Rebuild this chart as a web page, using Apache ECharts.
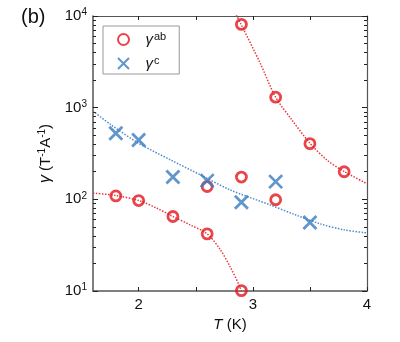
<!DOCTYPE html>
<html><head><meta charset="utf-8">
<script src="https://cdn.jsdelivr.net/npm/echarts@6/dist/echarts.min.js"></script>
<style>html,body{margin:0;padding:0;background:#fff}#c{width:400px;height:342px}</style>
</head><body><div id="c"></div>
<script>
// ---- data ----
const abT     = [1.8, 2.0, 2.3, 2.6, 2.9, 2.6, 2.9, 3.2, 2.9, 3.2, 3.5, 3.8];
const abGamma = [109, 97, 65, 42, 10.1, 138, 175, 99, 8100, 1300, 405, 200];
const cT      = [1.8, 2.0, 2.3, 2.6, 2.9, 3.2, 3.5];
const cGamma  = [526, 445, 175, 160, 93, 156, 56];
// dotted fit curves
const fitHighT = [2.855, 2.896, 3.065, 3.2, 3.342, 3.5, 3.648, 3.8, 4.0];
const fitHighG = [10300, 8160, 3050, 1300, 735, 409, 269, 201, 148];
const fitLowT  = [1.6, 1.8, 2.0, 2.16, 2.3, 2.45, 2.6, 2.715, 2.8, 2.89, 2.92];
const fitLowG  = [117, 110, 97, 80, 65, 52.7, 42, 28.2, 18.5, 10.8, 8];
const fitCT    = [1.6, 1.75, 2.0, 2.28, 2.54, 2.8, 3.15, 3.37, 3.59, 3.8, 4.0];
const fitCG    = [920, 660, 409, 269, 185, 127, 87, 68, 54, 46.5, 43];
// axes
const xRange = [1.6, 4];
const yRange = [10, 10000];
const xTickVals = [2, 2.5, 3, 3.5, 4];
const xLabelVals = [2, 3, 4];
const yMinorVals = [20,30,40,50,60,70,80,90,200,300,400,500,600,700,800,900,2000,3000,4000,5000,6000,7000,8000,9000];
const seriesNames = ['γab', 'γc'];

const FONT = '"Liberation Sans", Arial, sans-serif';
const RED = '#e2161e', BLUE = '#3a7cc0';
const RED_FIT = '#e8393e', BLUE_FIT = '#4a8ccc';
const AX = '#555';

const zip = (a, b) => a.map((v, i) => [v, b[i]]);
const supRich = {
  b: {fontSize: 15, fontFamily: FONT, color: '#111'},
  s: {fontSize: 10, fontFamily: FONT, color: '#111', verticalAlign: 'top', padding: [0, 0, 7, 0]}
};
const minorLog = yMinorVals.map(v => Math.log10(v));

const chart = echarts.init(document.getElementById('c'));
chart.setOption({
  animation: false,
  backgroundColor: '#fff',
  textStyle: {fontFamily: FONT},
  graphic: [{type: 'text', left: 21, top: 7, style: {text: '(b)', font: '20px ' + FONT, fill: '#111'}}],
  grid: {left: 93, right: 33, top: 16, bottom: 51, containLabel: false, outerBoundsMode: 'none'},
  xAxis: [
    {type: 'value', min: xRange[0], max: xRange[1], position: 'bottom',
     axisLine: {onZero: false, lineStyle: {color: AX, width: 1.5}},
     axisTick: {inside: true, length: 4, customValues: xTickVals, lineStyle: {color: '#222'}},
     axisLabel: {customValues: xLabelVals, fontSize: 15, color: '#111', margin: 6, fontFamily: FONT},
     splitLine: {show: false},
     name: '{i|T} (K)', nameLocation: 'middle', nameGap: 21,
     nameTextStyle: {fontSize: 15, color: '#111', fontFamily: FONT,
       rich: {i: {fontStyle: 'italic', fontSize: 15, fontFamily: FONT, color: '#111'}}}},
    {type: 'value', min: xRange[0], max: xRange[1], position: 'top',
     axisLine: {onZero: false, lineStyle: {color: AX, width: 1.2}},
     axisTick: {inside: true, length: 4, customValues: xTickVals, lineStyle: {color: '#222'}},
     axisLabel: {show: false}, splitLine: {show: false}}
  ],
  yAxis: [
    {type: 'log', logBase: 10, min: yRange[0], max: yRange[1], position: 'left',
     axisLine: {onZero: false, lineStyle: {color: AX, width: 1.5}},
     axisTick: {inside: true, length: 5, lineStyle: {color: '#222'}},
     axisLabel: {margin: 6, formatter: v => '{b|10}{s|' + Math.round(Math.log10(v)) + '}', rich: supRich},
     splitLine: {show: false},
     name: '{g|γ} (T{s|-1}A{s|-1})', nameLocation: 'middle', nameRotate: 90, nameGap: 35,
     nameTextStyle: {fontSize: 15, color: '#111', fontFamily: FONT,
       rich: {g: {fontStyle: 'italic', fontSize: 16, fontFamily: FONT, color: '#111'},
              s: {fontSize: 10, fontFamily: FONT, color: '#111', verticalAlign: 'top', padding: [0, 0, 7, 0]}}}},
    {type: 'log', logBase: 10, min: yRange[0], max: yRange[1], position: 'right',
     axisLine: {onZero: false, lineStyle: {color: AX, width: 1.2}},
     axisTick: {inside: true, length: 5, lineStyle: {color: '#222'}},
     axisLabel: {show: false}, splitLine: {show: false}},
    {type: 'value', min: 1, max: 4, position: 'left', axisLine: {show: false, onZero: false},
     axisTick: {inside: true, length: 3, customValues: minorLog, lineStyle: {color: '#222'}},
     axisLabel: {show: false}, splitLine: {show: false}},
    {type: 'value', min: 1, max: 4, position: 'right', axisLine: {show: false, onZero: false},
     axisTick: {inside: true, length: 3, customValues: minorLog, lineStyle: {color: '#222'}},
     axisLabel: {show: false}, splitLine: {show: false}}
  ],
  legend: {
    orient: 'vertical', left: 103, top: 26,
    data: seriesNames,
    backgroundColor: '#fff', borderColor: '#999', borderWidth: 1,
    padding: [5, 13, 3, 14], itemWidth: 12, itemHeight: 11, itemGap: 8,
    formatter: n => '{g|γ}{s|' + n.slice(1) + '}',
    textStyle: {rich: {
      g: {fontSize: 15, fontStyle: 'italic', fontFamily: FONT, color: '#111', padding: [0, 0, 0, 11]},
      s: {fontSize: 11, fontFamily: FONT, color: '#111', verticalAlign: 'top', padding: [0, 0, 6, 1]}}}
  },
  series: [
    {type: 'line', data: zip(fitHighT, fitHighG), showSymbol: false, smooth: 0.3, silent: true, z: 1,
     lineStyle: {color: RED_FIT, width: 1.5, type: [1.5, 1.5]}},
    {type: 'line', data: zip(fitLowT, fitLowG), showSymbol: false, smooth: 0.3, silent: true, z: 1,
     lineStyle: {color: RED_FIT, width: 1.5, type: [1.5, 1.5]}},
    {type: 'line', data: zip(fitCT, fitCG), showSymbol: false, smooth: 0.3, silent: true, z: 1,
     lineStyle: {color: BLUE_FIT, width: 1.5, type: [1.5, 1.5]}},
    {name: seriesNames[0], type: 'scatter', data: zip(abT, abGamma), symbol: 'circle', symbolSize: 10, z: 3,
     itemStyle: {color: 'rgba(0,0,0,0)', borderColor: RED, borderWidth: 2.8}},
    {name: seriesNames[1], type: 'scatter', data: zip(cT, cGamma), symbol: 'path://M0,0L10,10M10,0L0,10',
     symbolSize: 13, z: 4,
     itemStyle: {color: 'rgba(0,0,0,0)', borderColor: BLUE, borderWidth: 2.8}}
  ]
});
</script></body></html>
